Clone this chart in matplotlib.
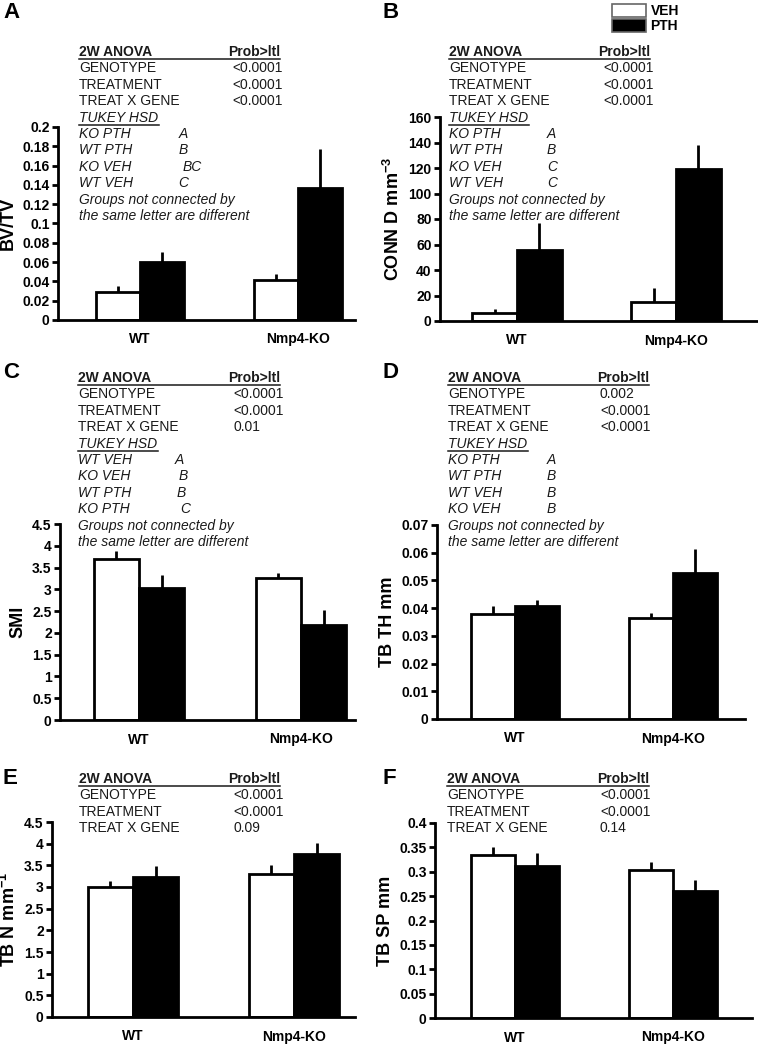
import numpy as np
import matplotlib
matplotlib.use("Agg")
from matplotlib import pyplot as plt
from matplotlib.lines import Line2D

plt.rcParams['font.family'] = ['Liberation Sans', 'DejaVu Sans']
plt.rcParams['mathtext.fontset'] = 'custom'
plt.rcParams['mathtext.rm'] = 'Liberation Sans'
plt.rcParams['mathtext.bf'] = 'Liberation Sans:bold'

W, H = 758, 1044

groups = ['WT', 'Nmp4-KO']
treatments = ['VEH', 'PTH']

# means and upper error (SE) per panel, order WT, Nmp4-KO
bvtv_veh = [0.029, 0.041]
bvtv_veh_err = [0.006, 0.007]
bvtv_pth = [0.060, 0.137]
bvtv_pth_err = [0.010, 0.040]

conn_veh = [6, 15]
conn_veh_err = [3.5, 11]
conn_pth = [56, 119]
conn_pth_err = [21, 19]

smi_veh = [3.69, 3.27]
smi_veh_err = [0.19, 0.11]
smi_pth = [3.04, 2.17]
smi_pth_err = [0.30, 0.35]

tbth_veh = [0.038, 0.0363]
tbth_veh_err = [0.0028, 0.0018]
tbth_pth = [0.0409, 0.0528]
tbth_pth_err = [0.002, 0.0084]

tbn_veh = [3.01, 3.30]
tbn_veh_err = [0.14, 0.21]
tbn_pth = [3.22, 3.76]
tbn_pth_err = [0.27, 0.25]

tbsp_veh = [0.334, 0.304]
tbsp_veh_err = [0.016, 0.017]
tbsp_pth = [0.312, 0.261]
tbsp_pth_err = [0.026, 0.022]

ylabels = ['BV/TV', r'CONN D mm$^{\mathbf{-3}}$', 'SMI', 'TB TH mm',
           r'TB N mm$^{\mathbf{-1}}$', 'TB SP mm']
yticks = [np.arange(0, 0.2001, 0.02), np.arange(0, 161, 20), np.arange(0, 4.51, 0.5),
          np.arange(0, 0.07001, 0.01), np.arange(0, 4.51, 0.5), np.arange(0, 0.4001, 0.05)]

# ANOVA table text per panel
anova_vals = [['<0.0001', '<0.0001', '<0.0001'],
              ['<0.0001', '<0.0001', '<0.0001'],
              ['<0.0001', '<0.0001', '0.01'],
              ['0.002', '<0.0001', '<0.0001'],
              ['<0.0001', '<0.0001', '0.09'],
              ['<0.0001', '<0.0001', '0.14']]
tukey_groups = [['KO PTH', 'WT PTH', 'KO VEH', 'WT VEH'],
                ['KO PTH', 'WT PTH', 'KO VEH', 'WT VEH'],
                ['WT VEH', 'KO VEH', 'WT PTH', 'KO PTH'],
                ['KO PTH', 'WT PTH', 'WT VEH', 'KO VEH'],
                None, None]
tukey_letters = [['A', 'B', 'BC', 'C'],
                 ['A', 'B', 'C', 'C'],
                 ['A', 'B', 'B', 'C'],
                 ['A', 'B', 'B', 'B'],
                 None, None]
panel_letters = ['A', 'B', 'C', 'D', 'E', 'F']

# layout in pixels: axis left, right, top, bottom, WT centre, KO centre
boxes = [(58, 355, 127, 320, 140, 298),
         (440, 757, 117, 321, 517, 676),
         (60, 355, 524, 720, 139, 301),
         (437, 745, 525, 719, 515, 673),
         (52, 355, 822, 1017, 133, 294),
         (435, 752, 823, 1018, 515, 673)]
# text block: left col x, value col x, prob x, header y, letter y
textpos = [(79, 232, 228, 52, 12),
           (449, 603, 598, 52, 12),
           (78, 233, 228, 378, 372),
           (448, 600, 597, 378, 372),
           (79, 233, 228, 779, 779),
           (447, 600, 597, 779, 779)]
letter_x = [[179, 179, 183, 178], [547, 547, 547, 547],
            [175, 179, 177, 180], [547, 547, 547, 547]]

veh_all = [(bvtv_veh, bvtv_veh_err), (conn_veh, conn_veh_err), (smi_veh, smi_veh_err),
           (tbth_veh, tbth_veh_err), (tbn_veh, tbn_veh_err), (tbsp_veh, tbsp_veh_err)]
pth_all = [(bvtv_pth, bvtv_pth_err), (conn_pth, conn_pth_err), (smi_pth, smi_pth_err),
           (tbth_pth, tbth_pth_err), (tbn_pth, tbn_pth_err), (tbsp_pth, tbsp_pth_err)]

fig = plt.figure(figsize=(W / 100, H / 100), dpi=100)


def fx(px):
    return px / W


def fy(py):
    return 1 - py / H


def ftext(x, y, s, **kw):
    fig.text(fx(x), fy(y), s, va='center', ha='left', fontsize=10, color='#1a1a1a', **kw)


def fline(x0, x1, y):
    fig.add_artist(Line2D([fx(x0), fx(x1)], [fy(y), fy(y)], color='#1a1a1a', lw=1.1))


width = 0.28
step = 16.4
handles = None
for i in range(6):
    l, r, t, b, c0, c1 = boxes[i]
    ax = fig.add_axes([fx(l), fy(b), fx(r - l), (b - t) / H])
    unit = c1 - c0
    ax.set_xlim(-(c0 - l) / unit, 1 + (r - c1) / unit)
    x = np.arange(len(groups))
    vm, ve = veh_all[i]
    pm, pe = pth_all[i]
    b1 = ax.bar(x - width / 2, vm, width, color='white', edgecolor='black', linewidth=2, zorder=2)
    b2 = ax.bar(x + width / 2, pm, width, color='black', edgecolor='black', linewidth=2, zorder=2)
    ax.errorbar(x - width / 2, vm, yerr=[np.zeros(2), ve], fmt='none', ecolor='black',
                elinewidth=2, capsize=0, zorder=1)
    ax.errorbar(x + width / 2, pm, yerr=[np.zeros(2), pe], fmt='none', ecolor='black',
                elinewidth=2, capsize=0, zorder=1)
    if i == 1:
        handles = [b1, b2]
    ax.set_ylim(0, yticks[i][-1])
    ax.set_yticks(yticks[i])
    ax.set_yticklabels(['%g' % round(v, 4) for v in yticks[i]], fontweight='bold', fontsize=10)
    ax.set_xticks(x)
    ax.set_xticklabels(groups, fontweight='bold', fontsize=10)
    ax.tick_params(axis='x', length=0, pad=9)
    ax.tick_params(axis='y', length=4, width=2, direction='out', pad=2)
    for s in ['top', 'right']:
        ax.spines[s].set_visible(False)
    for s in ['left', 'bottom']:
        ax.spines[s].set_linewidth(2)
    ax.set_ylabel(ylabels[i], fontweight='bold', fontsize=13, labelpad=4)
    ax.patch.set_alpha(0)

    # stats text
    lx, vx, px, hy, ly = textpos[i]
    fig.text(fx(3 if i % 2 == 0 else 383), fy(ly), panel_letters[i],
             fontsize=16, fontweight='bold', va='center', ha='left')
    ftext(lx, hy, '2W ANOVA', fontweight='bold')
    ftext(px, hy, 'Prob>ltl', fontweight='bold')
    fline(lx, px + 52, hy + 6.5)
    names = ['GENOTYPE', 'TREATMENT', 'TREAT X GENE']
    for k in range(3):
        ftext(lx, hy + step * (k + 1), names[k])
        ftext(vx, hy + step * (k + 1), anova_vals[i][k])
    if tukey_groups[i] is not None:
        yy = hy + step * 4
        ftext(lx, yy, 'TUKEY HSD', style='italic')
        fline(lx, lx + 80, yy + 7)
        for k in range(4):
            ftext(lx, hy + step * (5 + k), tukey_groups[i][k], style='italic')
            ftext(letter_x[i][k], hy + step * (5 + k), tukey_letters[i][k], style='italic')
        ftext(lx, hy + step * 9, 'Groups not connected by', style='italic')
        ftext(lx, hy + step * 10, 'the same letter are different', style='italic')

leg = fig.legend(handles, treatments, loc='upper left', bbox_to_anchor=(fx(606), fy(-2)),
                 frameon=False, handlelength=2.5, handleheight=1.1, labelspacing=0.05,
                 handletextpad=0.3, borderaxespad=0,
                 prop={'weight': 'bold', 'size': 10})
for p in leg.get_patches():
    p.set_linewidth(1.2)
    p.set_edgecolor('#666666')

fig.savefig('out.png', dpi=100)
